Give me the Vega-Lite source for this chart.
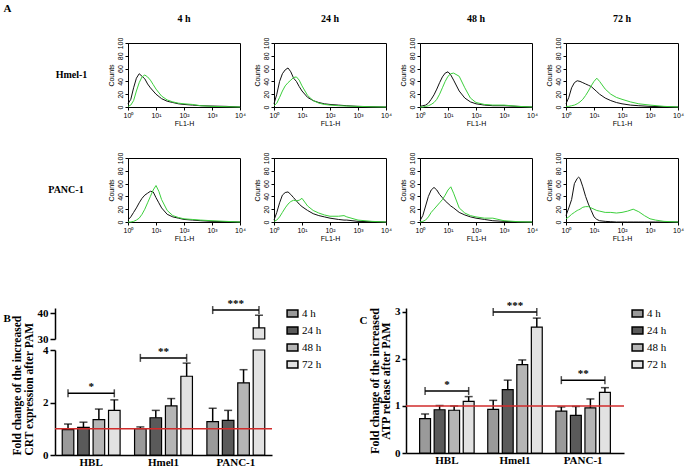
{
  "$schema": "https://vega.github.io/schema/vega-lite/v6.json",
  "padding": {"left": 3, "top": 3, "right": 3, "bottom": 0},
  "background": "white",
  "title": {"text": "A", "anchor": "start", "frame": "bounds", "font": "Liberation Serif", "fontSize": 11, "fontWeight": "bold", "offset": 0},
  "config": {
    "font": "Liberation Sans",
    "view": {"stroke": "black", "strokeWidth": 1},
    "axis": {"grid": false, "domainColor": "black", "tickColor": "black", "labelColor": "black", "titleColor": "black"}
  },
  "datasets": {
    "hist": [
      {"cell":"Hmel-1","time":"4 h","logfl":0,"ctrl":5,"PAM":1},
      {"cell":"Hmel-1","time":"4 h","logfl":0.1,"ctrl":12,"PAM":3},
      {"cell":"Hmel-1","time":"4 h","logfl":0.2,"ctrl":30,"PAM":10},
      {"cell":"Hmel-1","time":"4 h","logfl":0.3,"ctrl":45,"PAM":25},
      {"cell":"Hmel-1","time":"4 h","logfl":0.4,"ctrl":52,"PAM":38},
      {"cell":"Hmel-1","time":"4 h","logfl":0.5,"ctrl":48,"PAM":47},
      {"cell":"Hmel-1","time":"4 h","logfl":0.6,"ctrl":44,"PAM":50},
      {"cell":"Hmel-1","time":"4 h","logfl":0.7,"ctrl":36,"PAM":47},
      {"cell":"Hmel-1","time":"4 h","logfl":0.8,"ctrl":30,"PAM":42},
      {"cell":"Hmel-1","time":"4 h","logfl":0.9,"ctrl":25,"PAM":35},
      {"cell":"Hmel-1","time":"4 h","logfl":1.0,"ctrl":20,"PAM":28},
      {"cell":"Hmel-1","time":"4 h","logfl":1.2,"ctrl":13,"PAM":17},
      {"cell":"Hmel-1","time":"4 h","logfl":1.4,"ctrl":9,"PAM":11},
      {"cell":"Hmel-1","time":"4 h","logfl":1.6,"ctrl":7,"PAM":8},
      {"cell":"Hmel-1","time":"4 h","logfl":1.8,"ctrl":5,"PAM":6},
      {"cell":"Hmel-1","time":"4 h","logfl":2.0,"ctrl":4,"PAM":5},
      {"cell":"Hmel-1","time":"4 h","logfl":2.3,"ctrl":3,"PAM":4},
      {"cell":"Hmel-1","time":"4 h","logfl":2.6,"ctrl":2,"PAM":2},
      {"cell":"Hmel-1","time":"4 h","logfl":3.0,"ctrl":1.5,"PAM":1},
      {"cell":"Hmel-1","time":"4 h","logfl":3.5,"ctrl":1,"PAM":0.5},
      {"cell":"Hmel-1","time":"4 h","logfl":4.0,"ctrl":0,"PAM":0},

      {"cell":"Hmel-1","time":"24 h","logfl":0,"ctrl":5,"PAM":2},
      {"cell":"Hmel-1","time":"24 h","logfl":0.1,"ctrl":20,"PAM":6},
      {"cell":"Hmel-1","time":"24 h","logfl":0.2,"ctrl":40,"PAM":15},
      {"cell":"Hmel-1","time":"24 h","logfl":0.3,"ctrl":52,"PAM":25},
      {"cell":"Hmel-1","time":"24 h","logfl":0.4,"ctrl":58,"PAM":33},
      {"cell":"Hmel-1","time":"24 h","logfl":0.5,"ctrl":61,"PAM":38},
      {"cell":"Hmel-1","time":"24 h","logfl":0.6,"ctrl":55,"PAM":42},
      {"cell":"Hmel-1","time":"24 h","logfl":0.7,"ctrl":45,"PAM":46},
      {"cell":"Hmel-1","time":"24 h","logfl":0.8,"ctrl":40,"PAM":47},
      {"cell":"Hmel-1","time":"24 h","logfl":0.9,"ctrl":32,"PAM":42},
      {"cell":"Hmel-1","time":"24 h","logfl":1.0,"ctrl":25,"PAM":33},
      {"cell":"Hmel-1","time":"24 h","logfl":1.2,"ctrl":15,"PAM":18},
      {"cell":"Hmel-1","time":"24 h","logfl":1.4,"ctrl":10,"PAM":10},
      {"cell":"Hmel-1","time":"24 h","logfl":1.6,"ctrl":7,"PAM":6},
      {"cell":"Hmel-1","time":"24 h","logfl":1.8,"ctrl":5,"PAM":4},
      {"cell":"Hmel-1","time":"24 h","logfl":2.0,"ctrl":4,"PAM":3},
      {"cell":"Hmel-1","time":"24 h","logfl":2.3,"ctrl":3,"PAM":2},
      {"cell":"Hmel-1","time":"24 h","logfl":2.6,"ctrl":2,"PAM":1.5},
      {"cell":"Hmel-1","time":"24 h","logfl":3.0,"ctrl":1,"PAM":1},
      {"cell":"Hmel-1","time":"24 h","logfl":3.5,"ctrl":0.5,"PAM":0.3},
      {"cell":"Hmel-1","time":"24 h","logfl":4.0,"ctrl":0,"PAM":0},

      {"cell":"Hmel-1","time":"48 h","logfl":0,"ctrl":1,"PAM":0},
      {"cell":"Hmel-1","time":"48 h","logfl":0.1,"ctrl":2,"PAM":0},
      {"cell":"Hmel-1","time":"48 h","logfl":0.2,"ctrl":3,"PAM":1},
      {"cell":"Hmel-1","time":"48 h","logfl":0.3,"ctrl":6,"PAM":2},
      {"cell":"Hmel-1","time":"48 h","logfl":0.4,"ctrl":12,"PAM":4},
      {"cell":"Hmel-1","time":"48 h","logfl":0.5,"ctrl":19,"PAM":7},
      {"cell":"Hmel-1","time":"48 h","logfl":0.6,"ctrl":28,"PAM":12},
      {"cell":"Hmel-1","time":"48 h","logfl":0.7,"ctrl":38,"PAM":20},
      {"cell":"Hmel-1","time":"48 h","logfl":0.8,"ctrl":47,"PAM":30},
      {"cell":"Hmel-1","time":"48 h","logfl":0.9,"ctrl":53,"PAM":40},
      {"cell":"Hmel-1","time":"48 h","logfl":1.0,"ctrl":55,"PAM":48},
      {"cell":"Hmel-1","time":"48 h","logfl":1.1,"ctrl":50,"PAM":52},
      {"cell":"Hmel-1","time":"48 h","logfl":1.2,"ctrl":42,"PAM":53},
      {"cell":"Hmel-1","time":"48 h","logfl":1.4,"ctrl":25,"PAM":48},
      {"cell":"Hmel-1","time":"48 h","logfl":1.6,"ctrl":14,"PAM":30},
      {"cell":"Hmel-1","time":"48 h","logfl":1.8,"ctrl":8,"PAM":14},
      {"cell":"Hmel-1","time":"48 h","logfl":2.0,"ctrl":5,"PAM":7},
      {"cell":"Hmel-1","time":"48 h","logfl":2.3,"ctrl":3,"PAM":4},
      {"cell":"Hmel-1","time":"48 h","logfl":2.6,"ctrl":2,"PAM":3},
      {"cell":"Hmel-1","time":"48 h","logfl":3.0,"ctrl":2,"PAM":3},
      {"cell":"Hmel-1","time":"48 h","logfl":3.5,"ctrl":1,"PAM":1},
      {"cell":"Hmel-1","time":"48 h","logfl":4.0,"ctrl":0,"PAM":0},

      {"cell":"Hmel-1","time":"72 h","logfl":0,"ctrl":5,"PAM":1},
      {"cell":"Hmel-1","time":"72 h","logfl":0.1,"ctrl":15,"PAM":1},
      {"cell":"Hmel-1","time":"72 h","logfl":0.2,"ctrl":30,"PAM":2},
      {"cell":"Hmel-1","time":"72 h","logfl":0.3,"ctrl":38,"PAM":3},
      {"cell":"Hmel-1","time":"72 h","logfl":0.4,"ctrl":41,"PAM":5},
      {"cell":"Hmel-1","time":"72 h","logfl":0.5,"ctrl":40,"PAM":8},
      {"cell":"Hmel-1","time":"72 h","logfl":0.6,"ctrl":38,"PAM":12},
      {"cell":"Hmel-1","time":"72 h","logfl":0.7,"ctrl":36,"PAM":18},
      {"cell":"Hmel-1","time":"72 h","logfl":0.8,"ctrl":34,"PAM":25},
      {"cell":"Hmel-1","time":"72 h","logfl":0.9,"ctrl":32,"PAM":33},
      {"cell":"Hmel-1","time":"72 h","logfl":1.0,"ctrl":28,"PAM":40},
      {"cell":"Hmel-1","time":"72 h","logfl":1.1,"ctrl":24,"PAM":45},
      {"cell":"Hmel-1","time":"72 h","logfl":1.2,"ctrl":20,"PAM":40},
      {"cell":"Hmel-1","time":"72 h","logfl":1.4,"ctrl":14,"PAM":28},
      {"cell":"Hmel-1","time":"72 h","logfl":1.6,"ctrl":10,"PAM":20},
      {"cell":"Hmel-1","time":"72 h","logfl":1.8,"ctrl":7,"PAM":15},
      {"cell":"Hmel-1","time":"72 h","logfl":2.0,"ctrl":5,"PAM":12},
      {"cell":"Hmel-1","time":"72 h","logfl":2.3,"ctrl":3,"PAM":8},
      {"cell":"Hmel-1","time":"72 h","logfl":2.6,"ctrl":2,"PAM":5},
      {"cell":"Hmel-1","time":"72 h","logfl":3.0,"ctrl":1,"PAM":3},
      {"cell":"Hmel-1","time":"72 h","logfl":3.5,"ctrl":0.5,"PAM":1},
      {"cell":"Hmel-1","time":"72 h","logfl":4.0,"ctrl":0,"PAM":0},

      {"cell":"PANC-1","time":"4 h","logfl":0,"ctrl":3,"PAM":0},
      {"cell":"PANC-1","time":"4 h","logfl":0.1,"ctrl":8,"PAM":0},
      {"cell":"PANC-1","time":"4 h","logfl":0.2,"ctrl":15,"PAM":1},
      {"cell":"PANC-1","time":"4 h","logfl":0.3,"ctrl":22,"PAM":3},
      {"cell":"PANC-1","time":"4 h","logfl":0.4,"ctrl":30,"PAM":6},
      {"cell":"PANC-1","time":"4 h","logfl":0.5,"ctrl":37,"PAM":12},
      {"cell":"PANC-1","time":"4 h","logfl":0.6,"ctrl":42,"PAM":20},
      {"cell":"PANC-1","time":"4 h","logfl":0.7,"ctrl":45,"PAM":30},
      {"cell":"PANC-1","time":"4 h","logfl":0.8,"ctrl":48,"PAM":40},
      {"cell":"PANC-1","time":"4 h","logfl":0.9,"ctrl":47,"PAM":50},
      {"cell":"PANC-1","time":"4 h","logfl":1.0,"ctrl":38,"PAM":57},
      {"cell":"PANC-1","time":"4 h","logfl":1.1,"ctrl":30,"PAM":48},
      {"cell":"PANC-1","time":"4 h","logfl":1.2,"ctrl":22,"PAM":35},
      {"cell":"PANC-1","time":"4 h","logfl":1.4,"ctrl":12,"PAM":18},
      {"cell":"PANC-1","time":"4 h","logfl":1.6,"ctrl":8,"PAM":10},
      {"cell":"PANC-1","time":"4 h","logfl":1.8,"ctrl":6,"PAM":7},
      {"cell":"PANC-1","time":"4 h","logfl":2.0,"ctrl":4,"PAM":5},
      {"cell":"PANC-1","time":"4 h","logfl":2.3,"ctrl":3,"PAM":4},
      {"cell":"PANC-1","time":"4 h","logfl":2.6,"ctrl":2,"PAM":3},
      {"cell":"PANC-1","time":"4 h","logfl":3.0,"ctrl":1,"PAM":2},
      {"cell":"PANC-1","time":"4 h","logfl":3.5,"ctrl":0.5,"PAM":1},
      {"cell":"PANC-1","time":"4 h","logfl":4.0,"ctrl":0,"PAM":0},

      {"cell":"PANC-1","time":"24 h","logfl":0,"ctrl":3,"PAM":1},
      {"cell":"PANC-1","time":"24 h","logfl":0.1,"ctrl":15,"PAM":3},
      {"cell":"PANC-1","time":"24 h","logfl":0.2,"ctrl":30,"PAM":8},
      {"cell":"PANC-1","time":"24 h","logfl":0.3,"ctrl":42,"PAM":15},
      {"cell":"PANC-1","time":"24 h","logfl":0.4,"ctrl":46,"PAM":22},
      {"cell":"PANC-1","time":"24 h","logfl":0.5,"ctrl":47,"PAM":28},
      {"cell":"PANC-1","time":"24 h","logfl":0.6,"ctrl":43,"PAM":32},
      {"cell":"PANC-1","time":"24 h","logfl":0.7,"ctrl":38,"PAM":34},
      {"cell":"PANC-1","time":"24 h","logfl":0.8,"ctrl":33,"PAM":33},
      {"cell":"PANC-1","time":"24 h","logfl":0.9,"ctrl":28,"PAM":34},
      {"cell":"PANC-1","time":"24 h","logfl":1.0,"ctrl":24,"PAM":37},
      {"cell":"PANC-1","time":"24 h","logfl":1.2,"ctrl":18,"PAM":25},
      {"cell":"PANC-1","time":"24 h","logfl":1.4,"ctrl":13,"PAM":18},
      {"cell":"PANC-1","time":"24 h","logfl":1.6,"ctrl":10,"PAM":14},
      {"cell":"PANC-1","time":"24 h","logfl":1.8,"ctrl":8,"PAM":11},
      {"cell":"PANC-1","time":"24 h","logfl":2.0,"ctrl":6,"PAM":9},
      {"cell":"PANC-1","time":"24 h","logfl":2.3,"ctrl":4,"PAM":9},
      {"cell":"PANC-1","time":"24 h","logfl":2.5,"ctrl":3,"PAM":10},
      {"cell":"PANC-1","time":"24 h","logfl":2.6,"ctrl":3,"PAM":8},
      {"cell":"PANC-1","time":"24 h","logfl":3.0,"ctrl":1,"PAM":3},
      {"cell":"PANC-1","time":"24 h","logfl":3.5,"ctrl":0.5,"PAM":1},
      {"cell":"PANC-1","time":"24 h","logfl":4.0,"ctrl":0,"PAM":0},

      {"cell":"PANC-1","time":"48 h","logfl":0,"ctrl":2,"PAM":0},
      {"cell":"PANC-1","time":"48 h","logfl":0.1,"ctrl":10,"PAM":1},
      {"cell":"PANC-1","time":"48 h","logfl":0.2,"ctrl":25,"PAM":3},
      {"cell":"PANC-1","time":"48 h","logfl":0.3,"ctrl":40,"PAM":8},
      {"cell":"PANC-1","time":"48 h","logfl":0.4,"ctrl":50,"PAM":15},
      {"cell":"PANC-1","time":"48 h","logfl":0.5,"ctrl":54,"PAM":20},
      {"cell":"PANC-1","time":"48 h","logfl":0.6,"ctrl":50,"PAM":25},
      {"cell":"PANC-1","time":"48 h","logfl":0.7,"ctrl":43,"PAM":30},
      {"cell":"PANC-1","time":"48 h","logfl":0.8,"ctrl":38,"PAM":35},
      {"cell":"PANC-1","time":"48 h","logfl":0.9,"ctrl":33,"PAM":42},
      {"cell":"PANC-1","time":"48 h","logfl":1.0,"ctrl":29,"PAM":50},
      {"cell":"PANC-1","time":"48 h","logfl":1.1,"ctrl":25,"PAM":55},
      {"cell":"PANC-1","time":"48 h","logfl":1.2,"ctrl":22,"PAM":45},
      {"cell":"PANC-1","time":"48 h","logfl":1.4,"ctrl":15,"PAM":22},
      {"cell":"PANC-1","time":"48 h","logfl":1.6,"ctrl":11,"PAM":14},
      {"cell":"PANC-1","time":"48 h","logfl":1.8,"ctrl":8,"PAM":10},
      {"cell":"PANC-1","time":"48 h","logfl":2.0,"ctrl":6,"PAM":8},
      {"cell":"PANC-1","time":"48 h","logfl":2.3,"ctrl":4,"PAM":6},
      {"cell":"PANC-1","time":"48 h","logfl":2.6,"ctrl":2,"PAM":6},
      {"cell":"PANC-1","time":"48 h","logfl":3.0,"ctrl":1,"PAM":2},
      {"cell":"PANC-1","time":"48 h","logfl":3.5,"ctrl":0,"PAM":0.5},
      {"cell":"PANC-1","time":"48 h","logfl":4.0,"ctrl":0,"PAM":0},

      {"cell":"PANC-1","time":"72 h","logfl":0,"ctrl":10,"PAM":5},
      {"cell":"PANC-1","time":"72 h","logfl":0.1,"ctrl":22,"PAM":8},
      {"cell":"PANC-1","time":"72 h","logfl":0.2,"ctrl":35,"PAM":12},
      {"cell":"PANC-1","time":"72 h","logfl":0.3,"ctrl":60,"PAM":15},
      {"cell":"PANC-1","time":"72 h","logfl":0.4,"ctrl":68,"PAM":18},
      {"cell":"PANC-1","time":"72 h","logfl":0.45,"ctrl":70,"PAM":19},
      {"cell":"PANC-1","time":"72 h","logfl":0.5,"ctrl":68,"PAM":20},
      {"cell":"PANC-1","time":"72 h","logfl":0.6,"ctrl":55,"PAM":23},
      {"cell":"PANC-1","time":"72 h","logfl":0.7,"ctrl":40,"PAM":24},
      {"cell":"PANC-1","time":"72 h","logfl":0.8,"ctrl":28,"PAM":24},
      {"cell":"PANC-1","time":"72 h","logfl":0.9,"ctrl":18,"PAM":22},
      {"cell":"PANC-1","time":"72 h","logfl":1.0,"ctrl":8,"PAM":20},
      {"cell":"PANC-1","time":"72 h","logfl":1.1,"ctrl":4,"PAM":18},
      {"cell":"PANC-1","time":"72 h","logfl":1.2,"ctrl":2,"PAM":17},
      {"cell":"PANC-1","time":"72 h","logfl":1.4,"ctrl":1,"PAM":15},
      {"cell":"PANC-1","time":"72 h","logfl":1.6,"ctrl":0.5,"PAM":15},
      {"cell":"PANC-1","time":"72 h","logfl":1.8,"ctrl":0,"PAM":14},
      {"cell":"PANC-1","time":"72 h","logfl":2.0,"ctrl":0,"PAM":15},
      {"cell":"PANC-1","time":"72 h","logfl":2.2,"ctrl":0,"PAM":17},
      {"cell":"PANC-1","time":"72 h","logfl":2.4,"ctrl":0,"PAM":20},
      {"cell":"PANC-1","time":"72 h","logfl":2.6,"ctrl":0,"PAM":16},
      {"cell":"PANC-1","time":"72 h","logfl":2.8,"ctrl":0,"PAM":10},
      {"cell":"PANC-1","time":"72 h","logfl":3.0,"ctrl":0,"PAM":5},
      {"cell":"PANC-1","time":"72 h","logfl":3.2,"ctrl":0,"PAM":3},
      {"cell":"PANC-1","time":"72 h","logfl":3.5,"ctrl":0,"PAM":1},
      {"cell":"PANC-1","time":"72 h","logfl":4.0,"ctrl":0,"PAM":0}
    ],
    "barsB": [
      {"cell":"HBL","time":"4 h","value":0.97,"err":1.18},
      {"cell":"HBL","time":"24 h","value":1.05,"err":1.25},
      {"cell":"HBL","time":"48 h","value":1.35,"err":1.75},
      {"cell":"HBL","time":"72 h","value":1.7,"err":2.1},
      {"cell":"Hmel1","time":"4 h","value":1.0,"err":1.07},
      {"cell":"Hmel1","time":"24 h","value":1.42,"err":1.7},
      {"cell":"Hmel1","time":"48 h","value":1.87,"err":2.15},
      {"cell":"Hmel1","time":"72 h","value":3.0,"err":3.5},
      {"cell":"PANC-1","time":"4 h","value":1.27,"err":1.78},
      {"cell":"PANC-1","time":"24 h","value":1.32,"err":1.7},
      {"cell":"PANC-1","time":"48 h","value":2.75,"err":3.25},
      {"cell":"PANC-1","time":"72 h","value":34.3,"err":39.2}
    ],
    "bracketsB": [
      {"cell":"HBL","time":"4 h","y":2.35,"stars":"*"},
      {"cell":"HBL","time":"72 h","y":2.35,"stars":"*"},
      {"cell":"Hmel1","time":"4 h","y":3.7,"stars":"**"},
      {"cell":"Hmel1","time":"72 h","y":3.7,"stars":"**"},
      {"cell":"PANC-1","time":"4 h","y":41.2,"stars":"***"},
      {"cell":"PANC-1","time":"72 h","y":41.2,"stars":"***"}
    ],
    "barsC": [
      {"cell":"HBL","time":"4 h","value":0.73,"err":0.83},
      {"cell":"HBL","time":"24 h","value":0.92,"err":1.01},
      {"cell":"HBL","time":"48 h","value":0.91,"err":1.0},
      {"cell":"HBL","time":"72 h","value":1.1,"err":1.2},
      {"cell":"Hmel1","time":"4 h","value":0.93,"err":1.12},
      {"cell":"Hmel1","time":"24 h","value":1.35,"err":1.55},
      {"cell":"Hmel1","time":"48 h","value":1.88,"err":1.98},
      {"cell":"Hmel1","time":"72 h","value":2.68,"err":2.87},
      {"cell":"PANC-1","time":"4 h","value":0.89,"err":0.98},
      {"cell":"PANC-1","time":"24 h","value":0.8,"err":0.99},
      {"cell":"PANC-1","time":"48 h","value":0.96,"err":1.15},
      {"cell":"PANC-1","time":"72 h","value":1.29,"err":1.39}
    ],
    "bracketsC": [
      {"cell":"HBL","time":"4 h","y":1.32,"stars":"*"},
      {"cell":"HBL","time":"72 h","y":1.32,"stars":"*"},
      {"cell":"Hmel1","time":"4 h","y":3.0,"stars":"***"},
      {"cell":"Hmel1","time":"72 h","y":3.0,"stars":"***"},
      {"cell":"PANC-1","time":"4 h","y":1.55,"stars":"**"},
      {"cell":"PANC-1","time":"72 h","y":1.55,"stars":"**"}
    ],
    "blank": []
  },
  "concat": [
    {
      "hconcat": [
        {
          "width": 1,
          "height": 10,
          "view": {"stroke": null},
          "data": {"name": "blank"},
          "mark": "point"
        },
        {
          "data": {"name": "hist"},
          "transform": [{"fold": ["ctrl", "PAM"], "as": ["stain", "count"]}],
          "facet": {
            "row": {"field": "cell", "type": "nominal", "sort": ["Hmel-1", "PANC-1"],
              "header": {"title": null, "labelAngle": 0, "labelAlign": "right", "labelBaseline": "middle", "labelFont": "Liberation Serif", "labelFontSize": 10, "labelFontWeight": "bold", "labelPadding": -13}},
            "column": {"field": "time", "type": "nominal", "sort": ["4 h", "24 h", "48 h", "72 h"],
              "header": {"title": null, "labelFont": "Liberation Serif", "labelFontSize": 10, "labelFontWeight": "bold", "labelPadding": 12}}
          },
          "spacing": {"row": 24, "column": 6},
          "resolve": {"axis": {"x": "independent", "y": "independent"}},
          "spec": {
            "width": 112,
            "height": 64,
            "mark": {"type": "line", "strokeWidth": 1},
            "encoding": {
              "x": {"field": "logfl", "type": "quantitative", "scale": {"domain": [0, 4], "nice": false},
                "axis": {"values": [0, 1, 2, 3, 4], "labelExpr": "'10' + ['⁰','¹','²','³','⁴'][datum.value]", "title": "FL1-H", "titleFontSize": 7, "titleFontWeight": "normal", "titlePadding": 1, "labelFontSize": 7, "tickSize": 3, "labelPadding": 1, "labelFlush": false}},
              "y": {"field": "count", "type": "quantitative", "scale": {"domain": [0, 100], "nice": false},
                "axis": {"values": [0, 20, 40, 60, 80, 100], "title": "Counts", "titleFontSize": 7, "titleFontWeight": "normal", "titlePadding": 2, "labelFontSize": 7, "labelAngle": -90, "labelAlign": "center", "labelBaseline": "bottom", "tickSize": 3, "labelPadding": 2}},
              "color": {"field": "stain", "type": "nominal", "scale": {"domain": ["ctrl", "PAM"], "range": ["#111111", "#3ccf3c"]}, "legend": null},
              "order": {"field": "stain", "sort": "descending"}
            }
          }
        }
      ],
      "spacing": -8
    },
    {
      "hconcat": [
        {
          "title": {"text": "B", "anchor": "start", "frame": "bounds", "font": "Liberation Serif", "fontSize": 11, "fontWeight": "bold", "offset": 0, "dy": 26, "dx": -8},
          "spacing": 11,
          "bounds": "flush",
          "resolve": {"scale": {"y": "independent"}},
          "vconcat": [
            {
              "width": 217,
              "height": 31,
              "view": {"stroke": null},
              "layer": [
                {
                  "data": {"name": "barsB"},
                  "transform": [{"filter": "datum.value > 4"}],
                  "mark": {"type": "bar", "stroke": "black", "strokeWidth": 1.2},
                  "encoding": {
                    "x": {"field": "cell", "type": "nominal", "scale": {"domain": ["HBL", "Hmel1", "PANC-1"], "paddingInner": 0.2, "paddingOuter": 0.1}, "axis": null},
                    "xOffset": {"field": "time", "type": "nominal", "scale": {"domain": ["4 h", "24 h", "48 h", "72 h"], "paddingInner": 0.25}},
                    "y": {"field": "value", "type": "quantitative", "scale": {"domain": [30, 42], "nice": false, "zero": false},
                      "axis": {"values": [30, 40], "title": null, "labelFont": "Liberation Serif", "labelFontSize": 11, "labelFontWeight": "bold", "tickSize": 5, "domainWidth": 1.5, "tickWidth": 1.5}},
                    "y2": {"datum": 30},
                    "fill": {"field": "time", "type": "nominal", "scale": {"domain": ["4 h", "24 h", "48 h", "72 h"], "range": ["#9a9a9a", "#5a5a5a", "#b5b5b5", "#e2e2e2"]},
                      "legend": {"title": null, "symbolType": "M-1.4,-0.9L1.4,-0.9L1.4,0.9L-1.4,0.9Z", "symbolSize": 60, "symbolStrokeColor": "black", "symbolStrokeWidth": 1.5, "labelFont": "Liberation Serif", "labelFontSize": 11, "rowPadding": 4, "offset": 14}}
                  }
                },
                {
                  "data": {"name": "barsB"},
                  "transform": [{"filter": "datum.value > 4"}],
                  "mark": {"type": "rule", "color": "black", "strokeWidth": 1.5},
                  "encoding": {
                    "x": {"field": "cell", "type": "nominal"},
                    "xOffset": {"field": "time", "type": "nominal"},
                    "y": {"field": "value", "type": "quantitative"},
                    "y2": {"field": "err"}
                  }
                },
                {
                  "data": {"name": "barsB"},
                  "transform": [{"filter": "datum.value > 4"}],
                  "mark": {"type": "tick", "color": "black", "size": 8, "thickness": 1.5},
                  "encoding": {
                    "x": {"field": "cell", "type": "nominal"},
                    "xOffset": {"field": "time", "type": "nominal"},
                    "y": {"field": "err", "type": "quantitative"}
                  }
                },
                {
                  "data": {"name": "bracketsB"},
                  "transform": [{"filter": "datum.y > 4"}],
                  "mark": {"type": "line", "color": "black", "strokeWidth": 1.5},
                  "encoding": {
                    "x": {"field": "cell", "type": "nominal"},
                    "xOffset": {"field": "time", "type": "nominal"},
                    "y": {"field": "y", "type": "quantitative"},
                    "detail": {"field": "cell"}
                  }
                },
                {
                  "data": {"name": "bracketsB"},
                  "transform": [{"filter": "datum.y > 4"}],
                  "mark": {"type": "tick", "orient": "vertical", "color": "black", "size": 8, "thickness": 1.5},
                  "encoding": {
                    "x": {"field": "cell", "type": "nominal"},
                    "xOffset": {"field": "time", "type": "nominal"},
                    "y": {"field": "y", "type": "quantitative"}
                  }
                },
                {
                  "data": {"name": "bracketsB"},
                  "transform": [{"filter": "datum.y > 4 && datum.time == '4 h'"}],
                  "mark": {"type": "text", "dy": -6, "font": "Liberation Serif", "fontSize": 11, "fontWeight": "bold"},
                  "encoding": {
                    "x": {"field": "cell", "type": "nominal"},
                    "y": {"field": "y", "type": "quantitative"},
                    "text": {"field": "stars"}
                  }
                }
              ]
            },
            {
              "width": 217,
              "height": 105,
              "view": {"stroke": null},
              "layer": [
                {
                  "data": {"name": "barsB"},
                  "mark": {"type": "bar", "stroke": "black", "strokeWidth": 1.2},
                  "encoding": {
                    "x": {"field": "cell", "type": "nominal", "scale": {"domain": ["HBL", "Hmel1", "PANC-1"], "paddingInner": 0.2, "paddingOuter": 0.1},
                      "axis": {"title": null, "labelAngle": 0, "labelFont": "Liberation Serif", "labelFontSize": 11, "labelFontWeight": "bold", "ticks": false, "domainWidth": 1.5, "labelPadding": 1}},
                    "xOffset": {"field": "time", "type": "nominal", "scale": {"domain": ["4 h", "24 h", "48 h", "72 h"], "paddingInner": 0.25}},
                    "y": {"field": "value", "type": "quantitative", "scale": {"domain": [0, 4], "nice": false, "clamp": true},
                      "axis": {"values": [0, 1, 2, 3, 4], "title": ["Fold change of the increased", "CRT expression after PAM"], "titleFont": "Liberation Serif", "titleFontSize": 11.5, "titleFontWeight": "bold", "titleLineHeight": 12, "titleAnchor": "start", "titlePadding": 8, "labelFont": "Liberation Serif", "labelFontSize": 11, "labelFontWeight": "bold", "tickSize": 5, "domainWidth": 1.5, "tickWidth": 1.5}},
                    "fill": {"field": "time", "type": "nominal", "scale": {"domain": ["4 h", "24 h", "48 h", "72 h"], "range": ["#9a9a9a", "#5a5a5a", "#b5b5b5", "#e2e2e2"]}}
                  }
                },
                {
                  "data": {"name": "barsB"},
                  "transform": [{"filter": "datum.err <= 4"}],
                  "mark": {"type": "rule", "color": "black", "strokeWidth": 1.5},
                  "encoding": {
                    "x": {"field": "cell", "type": "nominal"},
                    "xOffset": {"field": "time", "type": "nominal"},
                    "y": {"field": "value", "type": "quantitative"},
                    "y2": {"field": "err"}
                  }
                },
                {
                  "data": {"name": "barsB"},
                  "transform": [{"filter": "datum.err <= 4"}],
                  "mark": {"type": "tick", "color": "black", "size": 8, "thickness": 1.5},
                  "encoding": {
                    "x": {"field": "cell", "type": "nominal"},
                    "xOffset": {"field": "time", "type": "nominal"},
                    "y": {"field": "err", "type": "quantitative"}
                  }
                },
                {
                  "data": {"values": [{"baseline": 1}]},
                  "mark": {"type": "rule", "color": "#d12b2b", "strokeWidth": 1.5},
                  "encoding": {"y": {"field": "baseline", "type": "quantitative"}}
                },
                {
                  "data": {"name": "bracketsB"},
                  "transform": [{"filter": "datum.y <= 4"}],
                  "mark": {"type": "line", "color": "black", "strokeWidth": 1.5},
                  "encoding": {
                    "x": {"field": "cell", "type": "nominal"},
                    "xOffset": {"field": "time", "type": "nominal"},
                    "y": {"field": "y", "type": "quantitative"},
                    "detail": {"field": "cell"}
                  }
                },
                {
                  "data": {"name": "bracketsB"},
                  "transform": [{"filter": "datum.y <= 4"}],
                  "mark": {"type": "tick", "orient": "vertical", "color": "black", "size": 8, "thickness": 1.5},
                  "encoding": {
                    "x": {"field": "cell", "type": "nominal"},
                    "xOffset": {"field": "time", "type": "nominal"},
                    "y": {"field": "y", "type": "quantitative"}
                  }
                },
                {
                  "data": {"name": "bracketsB"},
                  "transform": [{"filter": "datum.y <= 4 && datum.time == '4 h'"}],
                  "mark": {"type": "text", "dy": -6, "font": "Liberation Serif", "fontSize": 11, "fontWeight": "bold"},
                  "encoding": {
                    "x": {"field": "cell", "type": "nominal"},
                    "y": {"field": "y", "type": "quantitative"},
                    "text": {"field": "stars"}
                  }
                }
              ]
            }
          ]
        },
        {
          "title": {"text": "C", "anchor": "start", "frame": "bounds", "font": "Liberation Serif", "fontSize": 11, "fontWeight": "bold", "offset": 0, "dy": 26, "dx": -9},
          "width": 218,
          "height": 145,
          "view": {"stroke": null},
          "layer": [
            {
              "data": {"name": "barsC"},
              "mark": {"type": "bar", "stroke": "black", "strokeWidth": 1.2},
              "encoding": {
                "x": {"field": "cell", "type": "nominal", "scale": {"domain": ["HBL", "Hmel1", "PANC-1"], "paddingInner": 0.2, "paddingOuter": 0.2},
                  "axis": {"title": null, "labelAngle": 0, "labelFont": "Liberation Serif", "labelFontSize": 11, "labelFontWeight": "bold", "ticks": false, "domainWidth": 1.5, "labelPadding": 1}},
                "xOffset": {"field": "time", "type": "nominal", "scale": {"domain": ["4 h", "24 h", "48 h", "72 h"], "paddingInner": 0.25}},
                "y": {"field": "value", "type": "quantitative", "scale": {"domain": [0, 3.085], "nice": false},
                  "axis": {"values": [0, 1, 2, 3], "title": ["Fold change of the increased", "ATP release after PAM"], "titleFont": "Liberation Serif", "titleFontSize": 12, "titleFontWeight": "bold", "titleLineHeight": 11, "titlePadding": 2, "labelFont": "Liberation Serif", "labelFontSize": 11, "labelFontWeight": "bold", "labelPadding": 2, "tickSize": 4, "domainWidth": 1.5, "tickWidth": 1.5}},
                "fill": {"field": "time", "type": "nominal", "scale": {"domain": ["4 h", "24 h", "48 h", "72 h"], "range": ["#9a9a9a", "#5a5a5a", "#b5b5b5", "#e2e2e2"]},
                  "legend": {"title": null, "symbolType": "M-1.4,-0.9L1.4,-0.9L1.4,0.9L-1.4,0.9Z", "symbolSize": 60, "symbolStrokeColor": "black", "symbolStrokeWidth": 1.5, "labelFont": "Liberation Serif", "labelFontSize": 11, "rowPadding": 4, "offset": 8}}
              }
            },
            {
              "data": {"name": "barsC"},
              "mark": {"type": "rule", "color": "black", "strokeWidth": 1.5},
              "encoding": {
                "x": {"field": "cell", "type": "nominal"},
                "xOffset": {"field": "time", "type": "nominal"},
                "y": {"field": "value", "type": "quantitative"},
                "y2": {"field": "err"}
              }
            },
            {
              "data": {"name": "barsC"},
              "mark": {"type": "tick", "color": "black", "size": 8, "thickness": 1.5},
              "encoding": {
                "x": {"field": "cell", "type": "nominal"},
                "xOffset": {"field": "time", "type": "nominal"},
                "y": {"field": "err", "type": "quantitative"}
              }
            },
            {
              "data": {"values": [{"baseline": 1}]},
              "mark": {"type": "rule", "color": "#d12b2b", "strokeWidth": 1.5},
              "encoding": {"y": {"field": "baseline", "type": "quantitative"}}
            },
            {
              "data": {"name": "bracketsC"},
              "mark": {"type": "line", "color": "black", "strokeWidth": 1.5},
              "encoding": {
                "x": {"field": "cell", "type": "nominal"},
                "xOffset": {"field": "time", "type": "nominal"},
                "y": {"field": "y", "type": "quantitative"},
                "detail": {"field": "cell"}
              }
            },
            {
              "data": {"name": "bracketsC"},
              "mark": {"type": "tick", "orient": "vertical", "color": "black", "size": 8, "thickness": 1.5},
              "encoding": {
                "x": {"field": "cell", "type": "nominal"},
                "xOffset": {"field": "time", "type": "nominal"},
                "y": {"field": "y", "type": "quantitative"}
              }
            },
            {
              "data": {"name": "bracketsC"},
              "transform": [{"filter": "datum.time == '4 h'"}],
              "mark": {"type": "text", "dy": -6, "font": "Liberation Serif", "fontSize": 11, "fontWeight": "bold"},
              "encoding": {
                "x": {"field": "cell", "type": "nominal"},
                "y": {"field": "y", "type": "quantitative"},
                "text": {"field": "stars"}
              }
            }
          ]
        }
      ],
      "spacing": 37,
      "resolve": {"scale": {"x": "independent", "y": "independent", "xOffset": "independent", "fill": "independent"}}
    }
  ],
  "columns": 1,
  "spacing": 56,
  "resolve": {"scale": {"x": "independent", "y": "independent", "color": "independent"}}
}
